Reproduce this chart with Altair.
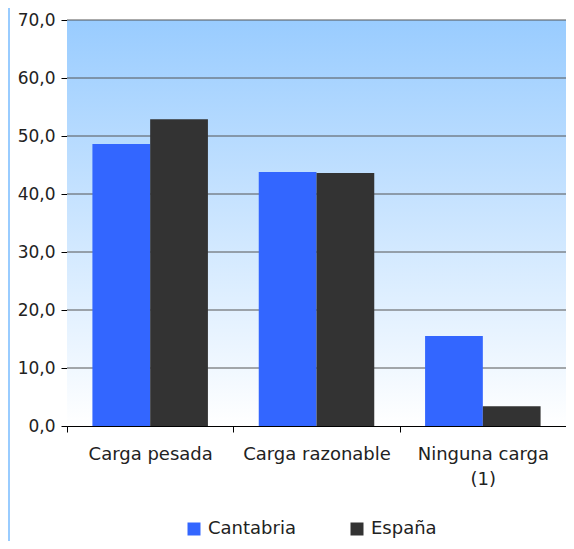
import altair as alt
import pandas as pd

categories = ["Carga pesada", "Carga razonable", "Ninguna carga (1)"]
series = ["Cantabria", "España"]
cantabria = [48.6, 43.8, 15.5]
espana = [52.9, 43.6, 3.4]
colors = ["#3366FF", "#333333"]
grid_values = [10, 20, 30, 40, 50, 60, 70]

rows = []
for i, c in enumerate(categories):
    rows.append({"cat": c, "serie": series[0], "val": cantabria[i]})
    rows.append({"cat": c, "serie": series[1], "val": espana[i]})
df = pd.DataFrame(rows)

FONT = "DejaVu Sans"
W, H = 499, 406

bg = alt.Chart(pd.DataFrame({"a": [0]})).mark_rect(
    color=alt.Gradient(
        gradient="linear", x1=0, x2=0, y1=0, y2=1,
        stops=[alt.GradientStop(color="#99CCFF", offset=0),
               alt.GradientStop(color="#FFFFFF", offset=1)],
    )
).encode(x=alt.value(0), x2=alt.value(W), y=alt.value(0), y2=alt.value(H))

border = alt.Chart(pd.DataFrame({"a": [0]})).mark_rule(
    color="#99CCFF", strokeWidth=2
).encode(x=alt.value(-58), y=alt.value(-20), y2=alt.value(H + 140))

grid = alt.Chart(pd.DataFrame({"g": grid_values})).mark_rule(
    color="#555555", strokeWidth=1
).encode(y=alt.Y("g:Q", scale=alt.Scale(domain=[0, 70], nice=False)),
         x=alt.value(0), x2=alt.value(W))

bars = alt.Chart(df).mark_bar().encode(
    x=alt.X("cat:N", sort=categories, title=None,
            scale=alt.Scale(paddingInner=0, paddingOuter=0),
            axis=alt.Axis(labelAngle=0, tickBand="extent", domainColor="#000000",
                          tickColor="#000000", tickSize=6, labelPadding=13,
                          labelFontSize=18, labelFont=FONT, labelColor="#222222",
                          labelLineHeight=25,
                          labelExpr="datum.value == 'Ninguna carga (1)' ? ['Ninguna carga', '(1)'] : datum.value")),
    xOffset=alt.XOffset("serie:N", sort=series,
                        scale=alt.Scale(paddingInner=0, paddingOuter=0.44)),
    y=alt.Y("val:Q", title=None,
            scale=alt.Scale(domain=[0, 70], nice=False),
            axis=alt.Axis(values=[0, 10, 20, 30, 40, 50, 60, 70], grid=False,
                          domainColor="#000000", tickColor="#000000", tickSize=6,
                          labelPadding=6, labelFontSize=17, labelFont=FONT,
                          labelColor="#222222",
                          labelExpr="replace(format(datum.value, '.1f'), '.', ',')")),
    color=alt.Color("serie:N", sort=series,
                    scale=alt.Scale(domain=series, range=colors),
                    legend=alt.Legend(title=None, orient="none", direction="horizontal",
                                      legendX=118, legendY=500,
                                      symbolType="square", symbolSize=169,
                                      symbolStrokeWidth=0, labelFontSize=18,
                                      labelFont=FONT, labelColor="#222222",
                                      columnPadding=52, labelOffset=5)),
)

chart = alt.layer(bg, border, grid, bars).properties(
    width=W, height=H,
    autosize=alt.AutoSizeParams(type="none"),
    padding={"left": 59, "top": 12, "right": 0, "bottom": 115},
).configure_view(stroke=None).configure(background="white")

chart.save("out.html", embed_options={"renderer": "svg", "actions": False})
